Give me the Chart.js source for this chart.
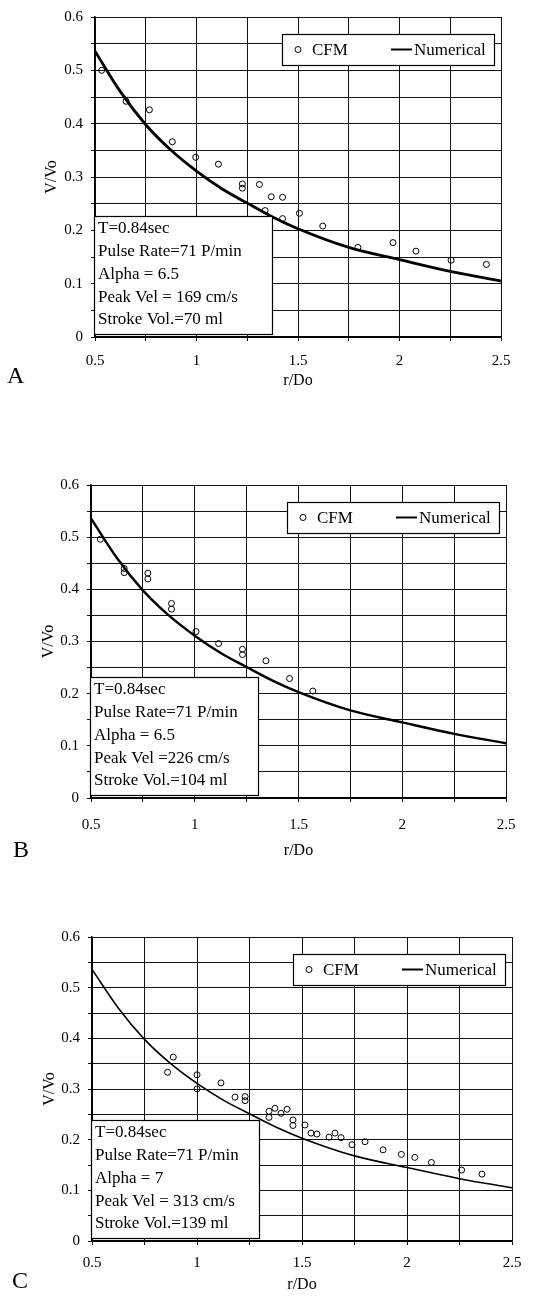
<!DOCTYPE html>
<html>
<head>
<meta charset="utf-8">
<script src="https://cdn.jsdelivr.net/npm/chart.js@4.4.1/dist/chart.umd.min.js"></script>
<style>
  html, body { margin: 0; padding: 0; background: #fff; }
  body { width: 557px; height: 1297px; position: relative; overflow: hidden; }
  canvas { position: absolute; left: 0; }
</style>
</head>
<body>
<canvas id="chartA" width="557" height="395" style="top:0px"></canvas>
<canvas id="chartB" width="557" height="405" style="top:460px"></canvas>
<canvas id="chartC" width="557" height="387" style="top:910px"></canvas>
<script>
// numerical curve (same in all three panels)
const NUM_X = [0.5, 0.625, 0.75, 0.875, 1.0, 1.125, 1.25, 1.375, 1.5, 1.75, 2.0, 2.25, 2.5];
const NUM_Y = [0.536, 0.46, 0.398, 0.35, 0.311, 0.278, 0.251, 0.225, 0.203, 0.168, 0.145, 0.123, 0.105];

// CFM measurements
const CFM_A_X = [0.533, 0.653, 0.768, 0.881, 0.996, 1.108, 1.226, 1.226, 1.310, 1.368, 1.424, 1.338, 1.424, 1.507, 1.622, 1.795, 1.968, 2.081, 2.254, 2.428];
const CFM_A_Y = [0.500, 0.442, 0.426, 0.366, 0.337, 0.324, 0.287, 0.279, 0.286, 0.263, 0.262, 0.237, 0.222, 0.232, 0.208, 0.168, 0.177, 0.161, 0.144, 0.136];

const CFM_B_X = [0.545, 0.660, 0.660, 0.774, 0.774, 0.888, 0.888, 1.006, 1.115, 1.230, 1.230, 1.343, 1.457, 1.569];
const CFM_B_Y = [0.496, 0.440, 0.432, 0.431, 0.420, 0.373, 0.362, 0.319, 0.296, 0.285, 0.275, 0.263, 0.229, 0.205];

const CFM_C_X = [0.860, 0.887, 1.000, 1.000, 1.114, 1.181, 1.229, 1.229, 1.343, 1.343, 1.371, 1.400, 1.429, 1.457, 1.457, 1.514, 1.543, 1.571, 1.629, 1.657, 1.686, 1.738, 1.800, 1.886, 1.973, 2.037, 2.116, 2.260, 2.357];
const CFM_C_Y = [0.333, 0.363, 0.328, 0.300, 0.312, 0.284, 0.285, 0.277, 0.256, 0.244, 0.262, 0.252, 0.260, 0.239, 0.228, 0.229, 0.213, 0.211, 0.205, 0.213, 0.204, 0.190, 0.196, 0.180, 0.171, 0.165, 0.155, 0.140, 0.132];

const INFO_A = ["T=0.84sec", "Pulse Rate=71 P/min", "Alpha = 6.5", "Peak Vel = 169 cm/s", "Stroke Vol.=70 ml"];
const INFO_B = ["T=0.84sec", "Pulse Rate=71 P/min", "Alpha = 6.5", "Peak Vel =226 cm/s", "Stroke Vol.=104 ml"];
const INFO_C = ["T=0.84sec", "Pulse Rate=71 P/min", "Alpha = 7", "Peak Vel = 313 cm/s", "Stroke Vol.=139 ml"];

// labelled ticks (grid lines are drawn every 0.25 / 0.05)
const X_TICKS = [0.5, 1, 1.5, 2, 2.5];
const Y_TICKS = [0, 0.1, 0.2, 0.3, 0.4, 0.5, 0.6];

const SERIF = '"Liberation Serif", "Times New Roman", serif';
Chart.defaults.font.family = SERIF;
Chart.defaults.color = "#000";

const panels = [
  { id: "chartA", letter: "A", h: 395, area: [95, 12, 501, 337], xTick: 361, xTitle: 381, yTitle: 52, letterX: 7, letterY: 377, lineW: 2.8, cx: CFM_A_X, cy: CFM_A_Y, info: INFO_A, infoW: 178 },
  { id: "chartB", letter: "B", h: 405, area: [91, 25, 506, 338], xTick: 365, xTitle: 391, yTitle: 49, letterX: 13, letterY: 391, lineW: 2.4, cx: CFM_B_X, cy: CFM_B_Y, info: INFO_B, infoW: 168 },
  { id: "chartC", letter: "C", h: 387, area: [92, 27, 512, 331], xTick: 353, xTitle: 375, yTitle: 50, letterX: 12, letterY: 372, lineW: 1.6, cx: CFM_C_X, cy: CFM_C_Y, info: INFO_C, infoW: 168 },
];

function tickLabel(list) {
  return (v) => {
    const hit = list.find((t) => Math.abs(t - v) < 1e-6);
    return hit === undefined ? "" : String(hit);
  };
}

function decor(p) {
  return {
    id: "decor_" + p.id,
    afterDraw(chart) {
      const ctx = chart.ctx;
      const a = chart.chartArea;
      ctx.save();

      // legend box
      const bw = 212, bh = 31;
      const bx = Math.round(a.right - 7 - bw), by = Math.round(a.top + 17);
      const my = by + bh / 2;
      ctx.fillStyle = "#fff";
      ctx.fillRect(bx, by, bw, bh);
      ctx.strokeStyle = "#000";
      ctx.lineWidth = 1.2;
      ctx.strokeRect(bx + 0.5, by + 0.5, bw, bh);
      ctx.beginPath();
      ctx.arc(bx + 16, my, 3, 0, Math.PI * 2);
      ctx.lineWidth = 1;
      ctx.stroke();
      ctx.beginPath();
      ctx.moveTo(bx + 109, my);
      ctx.lineTo(bx + 130, my);
      ctx.lineWidth = 2;
      ctx.stroke();
      ctx.fillStyle = "#000";
      ctx.font = "17px " + SERIF;
      ctx.textBaseline = "middle";
      ctx.textAlign = "left";
      ctx.fillText(chart.data.datasets[0].label, bx + 30, my + 1);
      ctx.fillText(chart.data.datasets[1].label, bx + 132, my + 1);

      // parameters box
      const iw = p.infoW, ih = 118;
      const ix = Math.round(a.left - 1), iy = Math.round(a.bottom - 3 - ih);
      ctx.fillStyle = "#fff";
      ctx.fillRect(ix, iy, iw, ih);
      ctx.lineWidth = 1.2;
      ctx.strokeRect(ix + 0.5, iy + 0.5, iw, ih);
      ctx.fillStyle = "#000";
      p.info.forEach((line, i) => ctx.fillText(line, ix + 4, iy + 13 + i * 22.7));

      // panel letter
      ctx.font = "24px " + SERIF;
      ctx.fillText(p.letter, p.letterX, p.letterY);
      ctx.restore();
    },
  };
}

panels.forEach((p) => {
  const [left, top, right, bottom] = p.area;
  const ctx = document.getElementById(p.id).getContext("2d");
  new Chart(ctx, {
    type: "scatter",
    data: {
      datasets: [
        {
          label: "CFM",
          data: p.cx.map((x, i) => ({ x, y: p.cy[i] })),
          pointRadius: 3,
          pointBorderWidth: 1,
          pointBorderColor: "#000",
          pointBackgroundColor: "rgba(0,0,0,0)",
          showLine: false,
        },
        {
          label: "Numerical",
          data: NUM_X.map((x, i) => ({ x, y: NUM_Y[i] })),
          showLine: true,
          borderColor: "#000",
          borderWidth: p.lineW,
          pointRadius: 0,
          cubicInterpolationMode: "monotone",
        },
      ],
    },
    options: {
      responsive: false,
      animation: false,
      devicePixelRatio: 1,
      layout: { padding: { top: top, right: 557 - right, left: 0, bottom: 0 } },
      plugins: { legend: { display: false }, tooltip: { enabled: false } },
      scales: {
        x: {
          type: "linear",
          min: 0.5,
          max: 2.5,
          afterFit: (s) => { s.height = p.h - bottom; },
          grid: { color: "#111", lineWidth: 1, tickLength: 4 },
          border: { color: "#000", width: 1.5 },
          ticks: {
            stepSize: 0.25,
            autoSkip: false,
            maxRotation: 0,
            padding: p.xTick - bottom - 13,
            font: { size: 15 },
            callback: tickLabel(X_TICKS),
          },
          title: {
            display: true,
            text: "r/Do",
            font: { size: 16 },
            padding: { top: 0, bottom: p.h - p.xTitle - 9.6 },
          },
        },
        y: {
          min: 0,
          max: 0.6,
          afterFit: (s) => { s.width = left; },
          grid: { color: "#111", lineWidth: 1, tickLength: 4 },
          border: { color: "#000", width: 1.5 },
          ticks: {
            stepSize: 0.05,
            autoSkip: false,
            padding: 8,
            font: { size: 15 },
            callback: tickLabel(Y_TICKS),
          },
          title: {
            display: true,
            text: "V/Vo",
            font: { size: 16 },
            padding: { top: p.yTitle - 9.6, bottom: 0 },
          },
        },
      },
    },
    plugins: [decor(p)],
  });
});
</script>
</body>
</html>
